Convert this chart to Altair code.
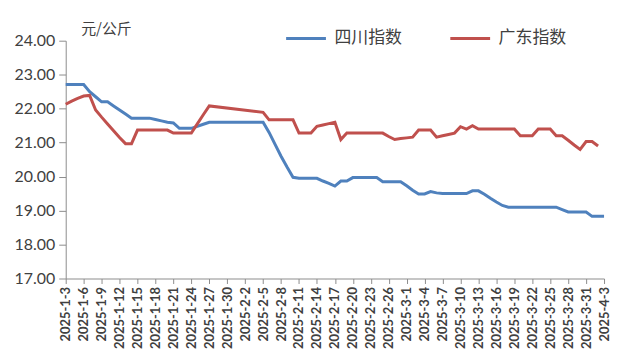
import altair as alt
import pandas as pd

series_names = ["四川指数", "广东指数"]
series_colors = ["#4F81BD", "#C0504D"]

# data dates: 2025-1-3 .. 2025-1-27 and 2025-2-5 .. 2025-4-3 (gap over the holiday)
sichuan = [
    22.71, 22.71, 22.71, 22.71, 22.5, 22.35, 22.2, 22.2, 22.08, 21.96, 21.84, 21.72, 21.72,
    21.72, 21.72, 21.68, 21.64, 21.6, 21.58, 21.42, 21.42, 21.42, 21.48, 21.54, 21.6,
    21.6, 21.3, 20.95, 20.6, 20.28, 19.98, 19.95, 19.95, 19.95, 19.95, 19.87, 19.8, 19.72,
    19.87, 19.87, 19.97, 19.97, 19.97, 19.97, 19.97, 19.85, 19.85, 19.85, 19.85,
    19.73, 19.6, 19.49, 19.49, 19.56, 19.52, 19.5, 19.5, 19.5, 19.5, 19.5, 19.58, 19.58,
    19.48, 19.36, 19.25, 19.15, 19.1, 19.1, 19.1, 19.1, 19.1, 19.1, 19.1, 19.1, 19.1,
    19.03, 18.96, 18.96, 18.96, 18.96,
    18.83, 18.83, 18.83,
]
guangdong = [
    22.13, 22.22, 22.3, 22.37, 22.39, 21.96, 21.75, 21.55, 21.35, 21.15, 20.97, 20.97, 21.37,
    21.37, 21.37, 21.37, 21.37, 21.37, 21.28, 21.28, 21.28, 21.28, 21.55, 21.82, 22.08,
    21.89, 21.67, 21.67, 21.67, 21.67, 21.67, 21.28, 21.28, 21.28, 21.48, 21.52, 21.56, 21.6,
    21.09, 21.28, 21.28, 21.28, 21.28, 21.28, 21.28, 21.28, 21.18, 21.09,
    21.12, 21.14, 21.16, 21.37, 21.37, 21.37, 21.16, 21.2, 21.24, 21.28, 21.47, 21.4, 21.5,
    21.4, 21.4, 21.4, 21.4, 21.4, 21.4, 21.4, 21.2, 21.2, 21.2, 21.4, 21.4, 21.4,
    21.2, 21.2, 21.07, 20.93, 20.8,
    21.03, 21.03, 20.9,
]

all_days = pd.date_range("2025-01-03", "2025-04-03", freq="D")
def lab(d):
    return f"{d.year}-{d.month}-{d.day}"
all_labels = [lab(d) for d in all_days]
tick_labels = all_labels[::3]
gap = pd.date_range("2025-01-28", "2025-02-04", freq="D")
data_labels = [lab(d) for d in all_days if d not in gap]

rows = []
for name, vals in zip(series_names, [sichuan, guangdong]):
    for d, v in zip(data_labels, vals):
        rows.append({"date": d, "value": v, "series": name})
df = pd.DataFrame(rows)

font = "Lato, 'Noto Sans CJK SC', sans-serif"
cjk = "'Noto Sans CJK SC', sans-serif"

chart = alt.Chart(df).mark_line(strokeWidth=3).encode(
    x=alt.X("date:O", sort=None,
            scale=alt.Scale(type="point", domain=all_labels, padding=0),
            axis=alt.Axis(values=tick_labels, title=None, labelAngle=-90,
                          labelFont=font, labelFontSize=13, labelFontWeight="bold",
                          labelColor="#404040", labelPadding=3,
                          tickSize=5, tickColor="#8c8c8c", domainColor="#8c8c8c",
                          grid=False)),
    y=alt.Y("value:Q", scale=alt.Scale(domain=[17, 24], nice=False, zero=False),
            axis=alt.Axis(values=[17, 18, 19, 20, 21, 22, 23, 24], format=".2f",
                          labelFont=font, labelFontSize=16, labelColor="#404040",
                          tickSize=7, tickColor="#8c8c8c", domainColor="#8c8c8c",
                          labelPadding=4, grid=False,
                          title="元/公斤", titleAngle=0, titleAlign="left",
                          titleBaseline="alphabetic", titleX=15, titleY=-7,
                          titleFont=cjk, titleFontSize=15, titleFontWeight="normal",
                          titleColor="#404040")),
    color=alt.Color("series:N",
                    scale=alt.Scale(domain=series_names, range=series_colors),
                    legend=alt.Legend(title=None, orient="none", legendX=220, legendY=-24,
                                      direction="horizontal", symbolType="stroke",
                                      symbolSize=1600, symbolStrokeWidth=3,
                                      labelFont=cjk, labelFontSize=17, labelColor="#404040",
                                      columnPadding=42, labelOffset=7)),
).properties(
    width=541, height=239,
    padding={"left": 58, "top": 32, "right": 10, "bottom": 75},
    autosize=alt.AutoSizeParams(type="none"),
).configure_view(stroke=None)

chart.save("out.html", embed_options={"renderer": "svg", "actions": False})
